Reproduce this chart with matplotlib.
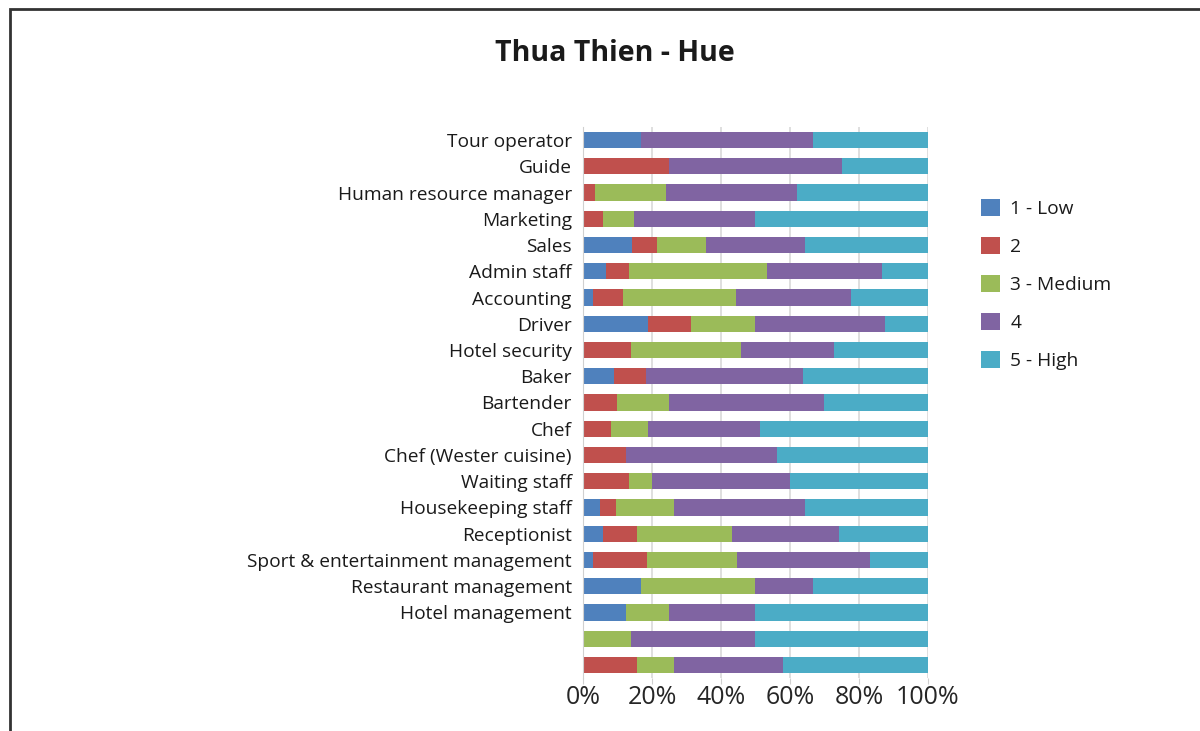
import numpy as np
import matplotlib.pyplot as plt
from matplotlib.patches import Rectangle

# Job categories, top to bottom (last two rows carry no label)
categories = [
    "Tour operator", "Guide", "Human resource manager", "Marketing", "Sales",
    "Admin staff", "Accounting", "Driver", "Hotel security", "Baker",
    "Bartender", "Chef", "Chef (Wester cuisine)", "Waiting staff",
    "Housekeeping staff", "Receptionist", "Sport & entertainment management",
    "Restaurant management", "Hotel management", "", "",
]

# Share of answers (%) per rating level
low = [16.7, 0, 0, 0, 14.3, 6.7, 3.0, 18.75, 0, 9.1, 0, 0, 0, 0,
       4.8, 5.8, 3.0, 16.7, 12.5, 0, 0]
two = [0, 25.0, 3.4, 5.9, 7.1, 6.7, 8.5, 12.5, 13.8, 9.1, 10.0, 8.1, 12.5, 13.3,
       4.8, 9.9, 15.5, 0, 0, 0, 15.8]
medium = [0, 0, 20.7, 8.8, 14.3, 40.0, 32.8, 18.75, 31.9, 0, 15.0, 10.8, 0, 6.7,
          16.9, 27.6, 26.1, 33.3, 12.5, 13.8, 10.5]
four = [50.0, 50.0, 37.9, 35.3, 28.6, 33.3, 33.3, 37.5, 27.2, 45.5, 45.0, 32.4,
        43.75, 40.0, 38.0, 31.0, 38.6, 16.7, 25.0, 36.2, 31.6]
high = [33.3, 25.0, 38.0, 50.0, 35.7, 13.3, 22.4, 12.5, 27.1, 36.3, 30.0, 48.7,
        43.75, 40.0, 35.5, 25.7, 16.8, 33.3, 50.0, 50.0, 42.1]

series = [low, two, medium, four, high]
labels = ["1 - Low", "2", "3 - Medium", "4", "5 - High"]
colors = ["#4F81BD", "#C0504D", "#9BBB59", "#8064A2", "#4BACC6"]

plt.rcParams['font.family'] = ['Open Sans', 'DejaVu Sans']

fig = plt.figure(figsize=(12, 7.31), dpi=100)
ax = fig.add_axes([0.4858, 0.0725, 0.2875, 0.7538])

y = np.arange(len(categories))
left = np.zeros(len(categories))
for vals, lab, col in zip(series, labels, colors):
    vals = np.array(vals)
    ax.barh(y, vals, left=left, height=0.62, color=col, label=lab, zorder=2)
    left += vals

ax.set_ylim(len(categories) - 0.5, -0.5)
ax.set_xlim(0, 100)
ax.set_xticks([0, 20, 40, 60, 80, 100])
ax.set_xticklabels(["0%", "20%", "40%", "60%", "80%", "100%"],
                   fontsize=18, color="#262626")
ax.set_yticks(y)
ax.set_yticklabels(categories, fontsize=13.8, color="#1a1a1a")
ax.tick_params(axis='y', length=0, pad=8)
ax.tick_params(axis='x', length=4, color="#d0d0d0", pad=1)
ax.grid(axis='x', color="#d9d9d9", linewidth=1.2, zorder=0)
for s in ["top", "right", "bottom"]:
    ax.spines[s].set_visible(False)
ax.spines["left"].set_color("#d0d0d0")

ax.legend(loc="upper left", bbox_to_anchor=(1.105, 0.9), frameon=False,
          fontsize=13.8, handlelength=0.95, handleheight=0.95, labelspacing=1.0,
          handletextpad=0.55, labelcolor="#1a1a1a")

fig.text(0.5125, 0.927, "Thua Thien - Hue", ha="center", va="center",
         fontsize=20.5, fontweight="bold", color="#1a1a1a")

# outer frame, open to the right and bottom
fig.patches.append(Rectangle((10 / 1200, -0.1), 1.2, 1.1 - 9 / 731,
                             transform=fig.transFigure, fill=False,
                             edgecolor="#333333", linewidth=2))

fig.savefig("out.png", dpi=100)
